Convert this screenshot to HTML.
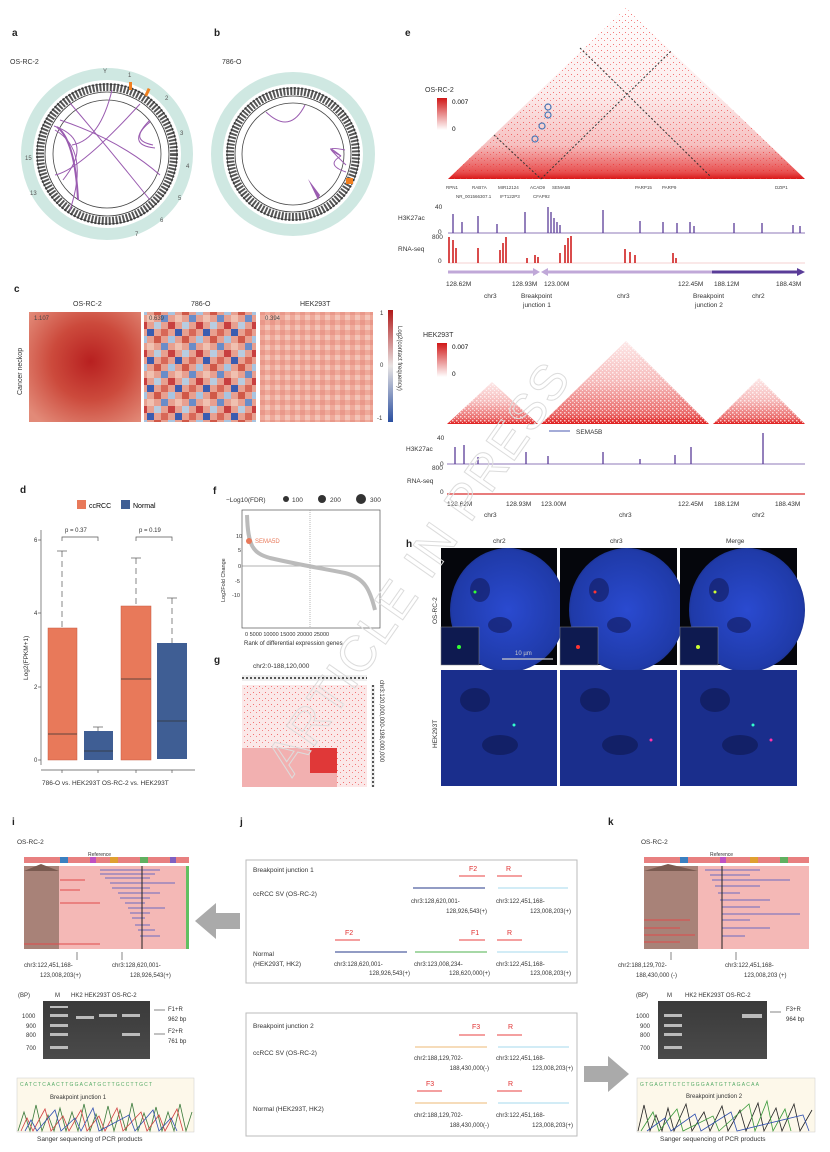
<!DOCTYPE html>
<html><head><meta charset="utf-8"><style>
html,body{margin:0;padding:0;background:#fff}
svg{display:block;font-family:"Liberation Sans",sans-serif}
</style></head><body>
<svg width="830" height="1152" viewBox="0 0 830 1152" xmlns="http://www.w3.org/2000/svg">
<defs>
<linearGradient id="hic" x1="0" y1="1" x2="0" y2="0">
<stop offset="0" stop-color="#d81818"/><stop offset="0.04" stop-color="#e85050"/><stop offset="0.2" stop-color="#f6c0c0"/><stop offset="0.5" stop-color="#fcecec"/><stop offset="1" stop-color="#fff"/></linearGradient>
<linearGradient id="hic2" x1="0" y1="1" x2="0" y2="0">
<stop offset="0" stop-color="#e02020"/><stop offset="0.12" stop-color="#ea6a6a"/><stop offset="0.5" stop-color="#f6baba"/><stop offset="1" stop-color="#fde8e8"/></linearGradient>
<linearGradient id="cb" x1="0" y1="1" x2="0" y2="0"><stop offset="0" stop-color="#fff"/><stop offset="1" stop-color="#d01818"/></linearGradient>
<linearGradient id="cbc" x1="0" y1="1" x2="0" y2="0"><stop offset="0" stop-color="#2a4fa0"/><stop offset="0.5" stop-color="#e8e4e4"/><stop offset="1" stop-color="#b01818"/></linearGradient>
<radialGradient id="hm1" cx="0.55" cy="0.45" r="0.7"><stop offset="0" stop-color="#b82020"/><stop offset="0.5" stop-color="#cc4a3c"/><stop offset="1" stop-color="#e28a78"/></radialGradient>
<radialGradient id="nuc" cx="0.5" cy="0.5" r="0.6"><stop offset="0" stop-color="#2a4ad0"/><stop offset="0.8" stop-color="#1f3aa8"/><stop offset="1" stop-color="#101a40"/></radialGradient>
<linearGradient id="gel" x1="0" y1="0" x2="0" y2="1"><stop offset="0" stop-color="#3a3a3a"/><stop offset="1" stop-color="#4a4a4a"/></linearGradient>
<pattern id="cells" width="28" height="28" patternUnits="userSpaceOnUse">
<rect width="28" height="28" fill="#e8a090"/>
<rect x="0" y="0" width="7" height="7" fill="#a8c4e0"/><rect x="14" y="0" width="7" height="7" fill="#d05848"/>
<rect x="7" y="7" width="7" height="7" fill="#f0c0b0"/><rect x="21" y="7" width="7" height="7" fill="#6a8cc8"/>
<rect x="0" y="14" width="7" height="7" fill="#c84040"/><rect x="14" y="14" width="7" height="7" fill="#b8cce0"/>
<rect x="7" y="21" width="7" height="7" fill="#3a5cb0"/><rect x="21" y="21" width="7" height="7" fill="#d86858"/>
</pattern>
<pattern id="cells2" width="10" height="10" patternUnits="userSpaceOnUse"><rect width="10" height="10" fill="#efaa9a"/><rect width="5" height="5" fill="#e9988a"/><rect x="5" y="5" width="5" height="5" fill="#f4c4b8"/></pattern>
<pattern id="dots" width="6" height="6" patternUnits="userSpaceOnUse"><rect x="1" y="2" width="1" height="1" fill="#e22"/><rect x="4" y="4" width="1" height="1" fill="#e44"/></pattern>
<pattern id="dots2" width="4" height="4" patternUnits="userSpaceOnUse"><rect x="0" y="0" width="1.5" height="1.5" fill="#fff"/><rect x="2" y="2" width="1" height="1" fill="#fff"/></pattern>
</defs>

<g font-weight="bold" font-size="10" fill="#222">
<text x="12" y="36">a</text><text x="214" y="36">b</text><text x="405" y="36">e</text>
<text x="14" y="292">c</text><text x="20" y="493">d</text><text x="213" y="494">f</text>
<text x="214" y="663">g</text><text x="406" y="547">h</text>
<text x="12" y="825">i</text><text x="240" y="825">j</text><text x="608" y="825">k</text>
</g>

<g font-size="7" fill="#333">
<text x="10" y="64">OS-RC-2</text><text x="222" y="64">786-O</text>
</g>
<g fill="none">
<circle cx="107" cy="154" r="80" stroke="#cfe8e2" stroke-width="12"/>
<circle cx="107" cy="154" r="67" stroke="#555" stroke-width="8" stroke-dasharray="2 1.5"/>
<circle cx="107" cy="154" r="62" stroke="#333" stroke-width="0.8"/>
<circle cx="107" cy="154" r="54" stroke="#444" stroke-width="0.8"/>
<circle cx="107" cy="154" r="70" stroke="#222" stroke-width="0.6"/>
<g stroke="#9a5cb0" stroke-width="1">
<path d="M112 90 Q100 140 72 145"/><path d="M70 103 Q110 150 150 200"/><path d="M60 120 Q120 140 160 175"/>
<path d="M140 104 Q80 170 55 175"/><path d="M150 120 Q125 145 155 148"/><path d="M150 122 Q128 140 153 145"/>
<path d="M55 130 Q90 150 70 210"/><path d="M57 127 Q75 140 78 200" stroke-width="2"/><path d="M54 126 Q95 140 63 180"/>
</g>
<circle cx="293" cy="154" r="76" stroke="#cfe8e2" stroke-width="12"/>
<circle cx="293" cy="154" r="63" stroke="#555" stroke-width="8" stroke-dasharray="2 1.5"/>
<circle cx="293" cy="154" r="58" stroke="#333" stroke-width="0.8"/>
<circle cx="293" cy="154" r="51" stroke="#444" stroke-width="0.8"/>
<circle cx="293" cy="154" r="66" stroke="#222" stroke-width="0.6"/>
<g stroke="#9a5cb0" stroke-width="1">
<path d="M266 112 Q290 135 305 105"/><path d="M341 156 Q320 145 345 150"/><path d="M341 156 Q318 138 346 165"/><path d="M341 156 Q325 165 346 172"/>
</g>
</g>
<path d="M308 179 L318 200 L320 195 Z" fill="#9a5cb0"/>
<rect x="346" y="178" width="7" height="6" fill="#f08020"/>
<rect x="129" y="82" width="3" height="8" fill="#f08020"/><rect x="146" y="88" width="3" height="8" fill="#f08020" transform="rotate(25 147 92)"/>
<g font-size="6" fill="#555"><text x="103" y="73">Y</text><text x="128" y="77">1</text><text x="165" y="100">2</text><text x="180" y="135">3</text><text x="186" y="168">4</text><text x="178" y="200">5</text><text x="160" y="222">6</text><text x="135" y="236">7</text><text x="25" y="160">15</text><text x="30" y="195">13</text></g>

<g font-size="7" fill="#333">
<text x="73" y="306">OS-RC-2</text><text x="191" y="306">786-O</text><text x="300" y="306">HEK293T</text>
<text transform="translate(22 395) rotate(-90)">Cancer neckop</text>
</g>
<rect x="29" y="312" width="112" height="110" fill="url(#hm1)"/>
<rect x="144" y="312" width="112" height="110" fill="url(#cells)"/>
<rect x="260" y="312" width="113" height="110" fill="url(#cells2)"/>
<g font-size="6" fill="#444"><text x="34" y="320">1.107</text><text x="149" y="320">0.639</text><text x="265" y="320">0.394</text></g>
<rect x="388" y="310" width="5" height="112" fill="url(#cbc)"/>
<g font-size="6" fill="#333"><text x="380" y="315">1</text><text x="380" y="367">0</text><text x="377" y="420">-1</text>
<text transform="translate(398 326) rotate(90)">Log2(contact frequency)</text></g>

<rect x="77" y="500" width="9" height="9" fill="#e8795a"/><text x="89" y="508" font-size="7">ccRCC</text>
<rect x="121" y="500" width="9" height="9" fill="#3f5e94"/><text x="133" y="508" font-size="7">Normal</text>
<g stroke="#555" stroke-width="0.7" fill="none">
<line x1="41" y1="530" x2="41" y2="765"/><line x1="41" y1="770" x2="195" y2="770"/>
<line x1="38" y1="540" x2="41" y2="540"/><line x1="38" y1="613" x2="41" y2="613"/><line x1="38" y1="687" x2="41" y2="687"/><line x1="38" y1="760" x2="41" y2="760"/>
<line x1="62" y1="770" x2="62" y2="773"/><line x1="98" y1="770" x2="98" y2="773"/><line x1="136" y1="770" x2="136" y2="773"/><line x1="172" y1="770" x2="172" y2="773"/>
<path d="M62 541 V537 H98 V541"/><path d="M136 541 V537 H172 V541"/>
<g stroke-dasharray="6 4"><line x1="62" y1="551" x2="62" y2="628"/><line x1="136" y1="558" x2="136" y2="606"/><line x1="172" y1="598" x2="172" y2="643"/></g>
<line x1="57" y1="551" x2="67" y2="551"/><line x1="131" y1="558" x2="141" y2="558"/><line x1="167" y1="598" x2="177" y2="598"/>
<line x1="98" y1="727" x2="98" y2="731"/><line x1="93" y1="727" x2="103" y2="727"/>
</g>
<rect x="48" y="628" width="29" height="132" fill="#e8795a" stroke="#c85a40" stroke-width="0.5"/>
<rect x="84" y="731" width="29" height="29" fill="#3f5e94"/>
<rect x="121" y="606" width="30" height="154" fill="#e8795a" stroke="#c85a40" stroke-width="0.5"/>
<rect x="157" y="643" width="30" height="116" fill="#3f5e94"/>
<g stroke="#333" stroke-width="0.7"><line x1="48" y1="734" x2="77" y2="734"/><line x1="84" y1="751" x2="113" y2="751"/><line x1="121" y1="679" x2="151" y2="679"/><line x1="157" y1="721" x2="187" y2="721"/></g>
<g font-size="6" fill="#333"><text x="34" y="542">6</text><text x="34" y="615">4</text><text x="34" y="689">2</text><text x="34" y="762">0</text>
<text x="65" y="532">p = 0.37</text><text x="139" y="532">p = 0.19</text>
<text x="42" y="785" font-size="6.5">786-O vs. HEK293T  OS-RC-2 vs. HEK293T</text>
<text transform="translate(28 680) rotate(-90)" font-size="6.5">Log2(FPKM+1)</text></g>

<g font-size="6.5" fill="#333"><text x="226" y="502">−Log10(FDR)</text><circle cx="286" cy="499" r="3"/><text x="292" y="502">100</text><circle cx="322" cy="499" r="4"/><text x="330" y="502">200</text><circle cx="361" cy="499" r="5"/><text x="370" y="502">300</text></g>
<rect x="242" y="510" width="138" height="118" fill="none" stroke="#555" stroke-width="0.7"/>
<line x1="242" y1="566" x2="380" y2="566" stroke="#666" stroke-width="0.6"/>
<line x1="310" y1="510" x2="310" y2="628" stroke="#888" stroke-width="0.6" stroke-dasharray="1 1"/>
<path d="M247 515 C248 545 252 553 270 558 C300 565 320 568 345 573 C365 578 370 590 375 610" stroke="#bbb" stroke-width="4" fill="none"/>
<circle cx="249" cy="541" r="3" fill="#e8795a"/><text x="255" y="543" font-size="6" fill="#e8795a">SEMA5D</text>
<g font-size="5.5" fill="#333"><text x="236" y="538">10</text><text x="238" y="552">5</text><text x="238" y="568">0</text><text x="235" y="583">-5</text><text x="232" y="597">-10</text>
<text x="245" y="636">0  5000 10000 15000 20000 25000</text><text x="244" y="645" font-size="6">Rank of differential expression genes</text>
<text transform="translate(225 602) rotate(-90)">Log2Fold Change</text></g>

<text x="253" y="668" font-size="6.5" fill="#333">chr2:0-188,120,000</text>
<rect x="242" y="675" width="125" height="6" fill="#eee"/><line x1="242" y1="678" x2="367" y2="678" stroke="#222" stroke-width="1.5" stroke-dasharray="2 2"/>
<rect x="242" y="685" width="125" height="102" fill="#fbe8e8"/>
<rect x="242" y="685" width="125" height="102" fill="url(#dots)" opacity="0.6"/>
<rect x="242" y="748" width="95" height="39" fill="#f2b0b0"/><rect x="310" y="748" width="27" height="25" fill="#e03838"/>
<rect x="371" y="685" width="4" height="102" fill="#eee"/><line x1="373" y1="685" x2="373" y2="787" stroke="#222" stroke-width="1.5" stroke-dasharray="2 2"/>
<text transform="translate(380 680) rotate(90)" font-size="6" fill="#333">chr3:120,000,000-198,000,000</text>

<text x="425" y="92" font-size="7" fill="#333">OS-RC-2</text>
<rect x="437" y="98" width="10" height="32" fill="url(#cb)"/><text x="452" y="104" font-size="6.5">0.007</text><text x="452" y="131" font-size="6.5">0</text>
<polygon points="448,179 626,8 805,179" fill="url(#hic)"/>
<polygon points="448,179 626,8 805,179" fill="url(#dots)" opacity="0.6"/>
<g stroke="#333" stroke-width="1" stroke-dasharray="2 2"><line x1="494" y1="135" x2="541" y2="179"/><line x1="541" y1="179" x2="672" y2="50"/><line x1="580" y1="48" x2="710" y2="176"/></g>
<g fill="none" stroke="#4a7ab8" stroke-width="1.2"><circle cx="535" cy="139" r="3"/><circle cx="542" cy="126" r="3"/><circle cx="548" cy="115" r="3"/><circle cx="548" cy="107" r="3"/></g>
<g font-size="4.5" fill="#444"><text x="446" y="189">RPN1</text><text x="472" y="189">RAB7A</text><text x="498" y="189">MIR12124</text><text x="530" y="189">ACAD9</text><text x="552" y="189">SEMA5B</text><text x="635" y="189">PARP15</text><text x="662" y="189">PARP9</text><text x="775" y="189">DZIP1</text>
<text x="456" y="198">NR_001566307.1</text><text x="500" y="198">IFT122P3</text><text x="533" y="198">CFAP92</text></g>
<g font-size="6.5" fill="#333"><text x="398" y="220">H3K27ac</text><text x="435" y="209">40</text><text x="438" y="234">0</text><text x="398" y="251">RNA-seq</text><text x="432" y="239">800</text><text x="438" y="263">0</text></g>
<line x1="448" y1="233" x2="805" y2="233" stroke="#6a4ca0" stroke-width="0.8"/>
<path d="M453 233 V214 M462 233 V222 M478 233 V216 M497 233 V224 M525 233 V212 M548 233 V207 M551 233 V212 M554 233 V218 M557 233 V222 M560 233 V225 M603 233 V210 M640 233 V221 M663 233 V222 M677 233 V223 M690 233 V222 M694 233 V226 M734 233 V223 M762 233 V223 M793 233 V225 M800 233 V226" stroke="#5a3c98" stroke-width="1.3"/>
<line x1="448" y1="263" x2="805" y2="263" stroke="#f0c0c0" stroke-width="0.8"/>
<path d="M449 263 V237 M453 263 V240 M456 263 V248 M478 263 V248 M500 263 V250 M503 263 V243 M506 263 V237 M527 263 V258 M535 263 V255 M538 263 V257 M560 263 V253 M565 263 V245 M568 263 V238 M571 263 V236 M625 263 V249 M630 263 V252 M635 263 V255 M673 263 V253 M676 263 V258" stroke="#d02020" stroke-width="1.6"/>
<g stroke-width="3"><line x1="448" y1="272" x2="535" y2="272" stroke="#c0a8d8"/><line x1="546" y1="272" x2="712" y2="272" stroke="#c0a8d8"/><line x1="712" y1="272" x2="798" y2="272" stroke="#5a3c98"/></g>
<polygon points="533,268 540,272 533,276" fill="#c0a8d8"/><polygon points="548,268 541,272 548,276" fill="#c0a8d8"/><polygon points="797,268 805,272 797,276" fill="#5a3c98"/>
<g font-size="6.5" fill="#333"><text x="446" y="286">128.62M</text><text x="512" y="286">128.93M</text><text x="544" y="286">123.00M</text><text x="678" y="286">122.45M</text><text x="714" y="286">188.12M</text><text x="776" y="286">188.43M</text>
<text x="484" y="298">chr3</text><text x="521" y="298">Breakpoint</text><text x="523" y="307">junction 1</text><text x="617" y="298">chr3</text><text x="693" y="298">Breakpoint</text><text x="695" y="307">junction 2</text><text x="752" y="298">chr2</text></g>

<text x="423" y="337" font-size="7" fill="#333">HEK293T</text>
<rect x="437" y="343" width="10" height="34" fill="url(#cb)"/><text x="452" y="349" font-size="6.5">0.007</text><text x="452" y="376" font-size="6.5">0</text>
<g><polygon points="447,424 492,382 538,424" fill="url(#hic2)"/><polygon points="541,424 626,341 709,424" fill="url(#hic2)"/><polygon points="713,424 759,378 805,424" fill="url(#hic2)"/></g>
<g opacity="0.7"><polygon points="447,424 492,382 538,424" fill="url(#dots2)"/><polygon points="541,424 626,341 709,424" fill="url(#dots2)"/><polygon points="713,424 759,378 805,424" fill="url(#dots2)"/></g>
<line x1="549" y1="431" x2="570" y2="431" stroke="#4a5ab0" stroke-width="1"/><text x="576" y="434" font-size="6.5" fill="#333">SEMA5B</text>
<g font-size="6.5" fill="#333"><text x="406" y="451">H3K27ac</text><text x="437" y="440">40</text><text x="440" y="466">0</text><text x="407" y="483">RNA-seq</text><text x="432" y="470">800</text><text x="440" y="494">0</text></g>
<line x1="447" y1="464" x2="805" y2="464" stroke="#6a4ca0" stroke-width="0.8"/>
<path d="M455 464 V447 M464 464 V445 M478 464 V457 M526 464 V452 M548 464 V456 M603 464 V452 M640 464 V459 M675 464 V455 M691 464 V447 M763 464 V433" stroke="#5a3c98" stroke-width="1.3"/>
<line x1="447" y1="494" x2="805" y2="494" stroke="#e05050" stroke-width="1.5"/>
<g font-size="6.5" fill="#333"><text x="447" y="506">128.62M</text><text x="506" y="506">128.93M</text><text x="541" y="506">123.00M</text><text x="678" y="506">122.45M</text><text x="714" y="506">188.12M</text><text x="775" y="506">188.43M</text>
<text x="484" y="517">chr3</text><text x="619" y="517">chr3</text><text x="752" y="517">chr2</text></g>

<g font-size="6.5" fill="#333"><text x="493" y="543">chr2</text><text x="610" y="543">chr3</text><text x="726" y="543">Merge</text>
<text transform="translate(437 624) rotate(-90)">OS-RC-2</text><text transform="translate(437 748) rotate(-90)">HEK293T</text></g>
<g>
<rect x="441" y="548" width="116" height="117" fill="#05060c"/><ellipse cx="508" cy="610" rx="58" ry="62" fill="url(#nuc)"/>
<rect x="560" y="548" width="117" height="117" fill="#05060c"/><ellipse cx="627" cy="610" rx="58" ry="62" fill="url(#nuc)"/>
<rect x="680" y="548" width="117" height="117" fill="#05060c"/><ellipse cx="747" cy="610" rx="58" ry="62" fill="url(#nuc)"/>
<g fill="#14206a" opacity="0.7"><ellipse cx="480" cy="590" rx="10" ry="12"/><ellipse cx="599" cy="590" rx="10" ry="12"/><ellipse cx="719" cy="590" rx="10" ry="12"/><ellipse cx="500" cy="625" rx="12" ry="8"/><ellipse cx="619" cy="625" rx="12" ry="8"/><ellipse cx="739" cy="625" rx="12" ry="8"/></g>
<rect x="441" y="670" width="116" height="116" fill="#1a2e8c"/><rect x="560" y="670" width="117" height="116" fill="#1a2e8c"/><rect x="680" y="670" width="117" height="116" fill="#1a2e8c"/>
<g fill="#0e1850" opacity="0.6"><ellipse cx="475" cy="700" rx="15" ry="12"/><ellipse cx="595" cy="700" rx="15" ry="12"/><ellipse cx="715" cy="700" rx="15" ry="12"/><ellipse cx="500" cy="745" rx="18" ry="10"/><ellipse cx="620" cy="745" rx="18" ry="10"/><ellipse cx="740" cy="745" rx="18" ry="10"/></g>
<g fill="#0e1a50" stroke="#888" stroke-width="0.5"><rect x="441" y="627" width="38" height="38"/><rect x="560" y="627" width="38" height="38"/><rect x="680" y="627" width="38" height="38"/></g>
<circle cx="475" cy="592" r="1.5" fill="#3f3"/><circle cx="459" cy="647" r="2" fill="#3f3"/>
<circle cx="595" cy="592" r="1.5" fill="#f33"/><circle cx="578" cy="647" r="2" fill="#f33"/>
<circle cx="715" cy="592" r="1.5" fill="#cf3"/><circle cx="698" cy="647" r="2" fill="#cf3"/>
<circle cx="514" cy="725" r="1.5" fill="#3fc"/><circle cx="651" cy="740" r="1.5" fill="#f3a"/><circle cx="753" cy="725" r="1.5" fill="#3fc"/><circle cx="771" cy="740" r="1.5" fill="#f3a"/>
<line x1="502" y1="659" x2="553" y2="659" stroke="#ccc" stroke-width="1.2"/><text x="515" y="655" font-size="6" fill="#ccc">10 µm</text>
</g>

<text transform="translate(292 778) rotate(-55)" font-size="50" fill="none" stroke="#dcdcdc" stroke-width="1" letter-spacing="2">ARTICLE IN PRESS</text>

<g font-size="6.5" fill="#333"><text x="17" y="844">OS-RC-2</text><text x="88" y="856" font-size="5">Reference</text></g>
<rect x="24" y="857" width="165" height="6" fill="#e88080"/><rect x="60" y="857" width="8" height="6" fill="#3a80c0"/><rect x="90" y="857" width="6" height="6" fill="#c050c0"/><rect x="110" y="857" width="8" height="6" fill="#e0a030"/><rect x="140" y="857" width="8" height="6" fill="#60b060"/><rect x="170" y="857" width="6" height="6" fill="#8060c0"/>
<rect x="24" y="866" width="165" height="83" fill="#f4b8b6"/><rect x="24" y="866" width="35" height="83" fill="#a88278"/><polygon points="24,871 41,864 59,871" fill="#7a5a50"/>
<rect x="186" y="866" width="3" height="83" fill="#60c060"/>
<g stroke="#6a6ac0" stroke-width="1"><path d="M100 870 H160 M100 874 H155 M105 878 H150 M110 883 H175 M112 888 H150 M118 893 H160 M120 898 H150 M125 903 H145 M128 908 H165 M130 913 H150 M132 918 H145 M135 925 H150 M138 930 H155 M140 936 H160"/></g>
<g stroke="#e04a4a" stroke-width="1"><path d="M60 880 H85 M60 890 H80 M60 903 H100 M24 944 H100"/></g>
<line x1="142" y1="866" x2="142" y2="949" stroke="#222" stroke-width="1"/>
<g stroke="#333" stroke-width="0.6"><line x1="77" y1="952" x2="77" y2="960"/><line x1="122" y1="952" x2="122" y2="960"/></g>
<g font-size="6" fill="#333"><text x="24" y="967">chr3:122,451,168-</text><text x="40" y="977">123,008,203(+)</text><text x="112" y="967">chr3:128,620,001-</text><text x="130" y="977">128,926,543(+)</text>
<text x="18" y="997">(BP)</text><text x="55" y="997">M</text><text x="71" y="997">HK2 HEK293T OS-RC-2</text>
<text x="22" y="1018">1000</text><text x="26" y="1028">900</text><text x="26" y="1037">800</text><text x="26" y="1050">700</text>
<text x="168" y="1011">F1+R</text><text x="168" y="1021">962 bp</text><text x="168" y="1033">F2+R</text><text x="168" y="1043">761 bp</text></g>
<rect x="43" y="1001" width="107" height="58" fill="url(#gel)"/>
<g fill="#bbb"><rect x="50" y="1014" width="18" height="3"/><rect x="50" y="1024" width="18" height="3"/><rect x="50" y="1033" width="18" height="3"/><rect x="50" y="1046" width="18" height="3"/><rect x="50" y="1006" width="18" height="2"/>
<rect x="76" y="1016" width="18" height="3"/><rect x="99" y="1014" width="18" height="3"/><rect x="122" y="1014" width="18" height="3"/><rect x="122" y="1033" width="18" height="3"/></g>
<g stroke="#333" stroke-width="0.6"><line x1="154" y1="1010" x2="165" y2="1010"/><line x1="154" y1="1034" x2="165" y2="1034"/></g>
<rect x="17" y="1078" width="177" height="54" fill="#fdf8ea" stroke="#ccc" stroke-width="0.5"/>
<text x="20" y="1086" font-size="5" fill="#5a6" letter-spacing="1.2">CATCTCAACTTGGACATGCTTGCCTTGCT</text>
<text x="50" y="1099" font-size="6" fill="#333">Breakpoint junction 1</text>
<path d="M18 1131 L24 1112 L30 1131 L36 1105 L42 1131 L48 1115 L54 1131 L60 1108 L66 1131 L72 1112 L78 1131 L84 1104 L90 1131 L96 1114 L102 1131 L108 1106 L114 1131 L120 1110 L126 1131 L132 1103 L138 1131 L144 1113 L150 1131 L156 1107 L162 1131 L168 1112 L174 1131 L180 1104 L186 1131 L192 1112" fill="none" stroke="#3a7a3a" stroke-width="0.8"/>
<path d="M21 1131 L27 1118 L33 1131 L45 1109 L51 1131 L63 1116 L69 1131 L81 1110 L87 1131 L99 1116 L105 1131 L117 1108 L123 1131 L141 1112 L147 1131 L159 1115 L165 1131 L177 1109 L183 1131" fill="none" stroke="#d04040" stroke-width="0.8"/>
<path d="M25 1131 L31 1120 L37 1131 L55 1110 L61 1131 L75 1118 L81 1131 L93 1108 L99 1131 L129 1115 L135 1131 L153 1110 L159 1131 L171 1118 L177 1131" fill="none" stroke="#3050b0" stroke-width="0.8"/>
<text x="37" y="1141" font-size="6.5" fill="#333">Sanger sequencing of PCR products</text>

<polygon points="195,921 216,903 216,913 240,913 240,929 216,929 216,939" fill="#aaa"/>
<polygon points="629,1074 608,1056 608,1066 584,1066 584,1082 608,1082 608,1092" fill="#aaa"/>

<rect x="246" y="860" width="331" height="123" fill="#fff" stroke="#bbb" stroke-width="1"/>
<rect x="246" y="1013" width="331" height="123" fill="#fff" stroke="#bbb" stroke-width="1"/>
<g font-size="6.5" fill="#333">
<text x="253" y="872">Breakpoint junction 1</text><text x="253" y="896">ccRCC SV (OS-RC-2)</text><text x="253" y="956">Normal</text><text x="253" y="966">(HEK293T, HK2)</text>
<text x="253" y="1028">Breakpoint junction 2</text><text x="253" y="1055">ccRCC SV (OS-RC-2)</text><text x="253" y="1111">Normal (HEK293T, HK2)</text>
</g>
<g font-size="7" fill="#e03030"><text x="469" y="871">F2</text><text x="506" y="871">R</text><text x="345" y="935">F2</text><text x="471" y="935">F1</text><text x="507" y="935">R</text><text x="472" y="1029">F3</text><text x="508" y="1029">R</text><text x="426" y="1086">F3</text><text x="508" y="1086">R</text></g>
<g stroke="#f08080" stroke-width="1.5"><line x1="459" y1="876" x2="485" y2="876"/><line x1="497" y1="876" x2="522" y2="876"/><line x1="335" y1="940" x2="360" y2="940"/><line x1="459" y1="940" x2="485" y2="940"/><line x1="497" y1="940" x2="522" y2="940"/><line x1="459" y1="1035" x2="485" y2="1035"/><line x1="497" y1="1035" x2="522" y2="1035"/><line x1="417" y1="1091" x2="442" y2="1091"/><line x1="497" y1="1091" x2="522" y2="1091"/></g>
<g stroke-width="1.2"><line x1="413" y1="888" x2="485" y2="888" stroke="#5060a0"/><line x1="498" y1="888" x2="568" y2="888" stroke="#b8e0f0"/>
<line x1="335" y1="952" x2="407" y2="952" stroke="#5060a0"/><line x1="415" y1="952" x2="487" y2="952" stroke="#70c070"/><line x1="497" y1="952" x2="568" y2="952" stroke="#b8e0f0"/>
<line x1="415" y1="1047" x2="487" y2="1047" stroke="#f0c890"/><line x1="498" y1="1047" x2="569" y2="1047" stroke="#b8e0f0"/>
<line x1="415" y1="1103" x2="487" y2="1103" stroke="#f0c890"/><line x1="498" y1="1103" x2="569" y2="1103" stroke="#b8e0f0"/></g>
<g font-size="6" fill="#333">
<text x="411" y="903">chr3:128,620,001-</text><text x="487" y="913" text-anchor="end">128,926,543(+)</text><text x="496" y="903">chr3:122,451,168-</text><text x="571" y="913" text-anchor="end">123,008,203(+)</text>
<text x="334" y="966">chr3:128,620,001-</text><text x="410" y="975" text-anchor="end">128,926,543(+)</text><text x="414" y="966">chr3:123,008,234-</text><text x="490" y="975" text-anchor="end">128,620,000(+)</text><text x="496" y="966">chr3:122,451,168-</text><text x="571" y="975" text-anchor="end">123,008,203(+)</text>
<text x="414" y="1060">chr2:188,129,702-</text><text x="489" y="1070" text-anchor="end">188,430,000(-)</text><text x="496" y="1060">chr3:122,451,168-</text><text x="573" y="1070" text-anchor="end">123,008,203(+)</text>
<text x="414" y="1117">chr2:188,129,702-</text><text x="489" y="1127" text-anchor="end">188,430,000(-)</text><text x="496" y="1117">chr3:122,451,168-</text><text x="573" y="1127" text-anchor="end">123,008,203(+)</text>
</g>

<g font-size="6.5" fill="#333"><text x="641" y="844">OS-RC-2</text><text x="710" y="856" font-size="5">Reference</text></g>
<rect x="644" y="857" width="165" height="6" fill="#e88080"/><rect x="680" y="857" width="8" height="6" fill="#3a80c0"/><rect x="720" y="857" width="6" height="6" fill="#c050c0"/><rect x="750" y="857" width="8" height="6" fill="#e0a030"/><rect x="780" y="857" width="8" height="6" fill="#60b060"/>
<rect x="644" y="866" width="165" height="83" fill="#f4b8b6"/><rect x="644" y="866" width="54" height="83" fill="#a88278"/><polygon points="644,871 668,864 698,871" fill="#7a5a50"/>
<g stroke="#6a6ac0" stroke-width="1"><path d="M705 870 H760 M710 875 H750 M712 880 H790 M715 886 H760 M718 893 H740 M720 900 H770 M722 907 H760 M722 914 H800 M722 920 H750 M722 928 H770 M722 936 H745"/></g>
<g stroke="#e04a4a" stroke-width="1"><path d="M644 920 H690 M644 928 H680 M644 935 H695 M644 942 H680"/></g>
<line x1="722" y1="866" x2="722" y2="949" stroke="#222" stroke-width="1"/>
<g stroke="#333" stroke-width="0.6"><line x1="671" y1="952" x2="671" y2="960"/><line x1="736" y1="952" x2="736" y2="960"/></g>
<g font-size="6" fill="#333"><text x="618" y="967">chr2:188,129,702-</text><text x="636" y="977">188,430,000 (-)</text><text x="725" y="967">chr3:122,451,168-</text><text x="744" y="977">123,008,203 (+)</text>
<text x="636" y="997">(BP)</text><text x="667" y="997">M</text><text x="685" y="997">HK2 HEK293T OS-RC-2</text>
<text x="636" y="1018">1000</text><text x="640" y="1028">900</text><text x="640" y="1037">800</text><text x="640" y="1050">700</text>
<text x="786" y="1011">F3+R</text><text x="786" y="1021">964 bp</text></g>
<rect x="658" y="1001" width="109" height="58" fill="url(#gel)"/>
<g fill="#bbb"><rect x="664" y="1014" width="18" height="3"/><rect x="664" y="1024" width="18" height="3"/><rect x="664" y="1033" width="18" height="3"/><rect x="664" y="1046" width="18" height="3"/><rect x="742" y="1014" width="20" height="4"/></g>
<line x1="770" y1="1012" x2="781" y2="1012" stroke="#333" stroke-width="0.6"/>
<rect x="637" y="1078" width="178" height="54" fill="#fdf8ea" stroke="#ccc" stroke-width="0.5"/>
<text x="640" y="1086" font-size="5" fill="#5a6" letter-spacing="1.2">GTGAGTTCTCTGGGAATGTTAGACAA</text>
<text x="686" y="1098" font-size="6" fill="#333">Breakpoint junction 2</text>
<path d="M638 1131 L644 1105 L650 1131 L656 1115 L662 1131 L668 1108 L674 1131 L686 1104 L692 1131 L704 1112 L710 1131 L722 1106 L728 1131 L740 1110 L746 1131 L758 1103 L764 1131 L776 1108 L782 1131 L794 1104 L800 1131 L812 1110" fill="none" stroke="#222" stroke-width="0.8"/>
<path d="M641 1131 L653 1112 L659 1131 L677 1109 L683 1131 L713 1116 L719 1131 L749 1104 L755 1131 L767 1101 L773 1131 L785 1109 L791 1131" fill="none" stroke="#3a9a3a" stroke-width="0.8"/>
<path d="M647 1131 L665 1118 L671 1131 L695 1114 L701 1131 L731 1112 L737 1131 L803 1115 L809 1131" fill="none" stroke="#3050b0" stroke-width="0.8"/>
<text x="660" y="1141" font-size="6.5" fill="#333">Sanger sequencing of PCR products</text>
</svg>
</body></html>
